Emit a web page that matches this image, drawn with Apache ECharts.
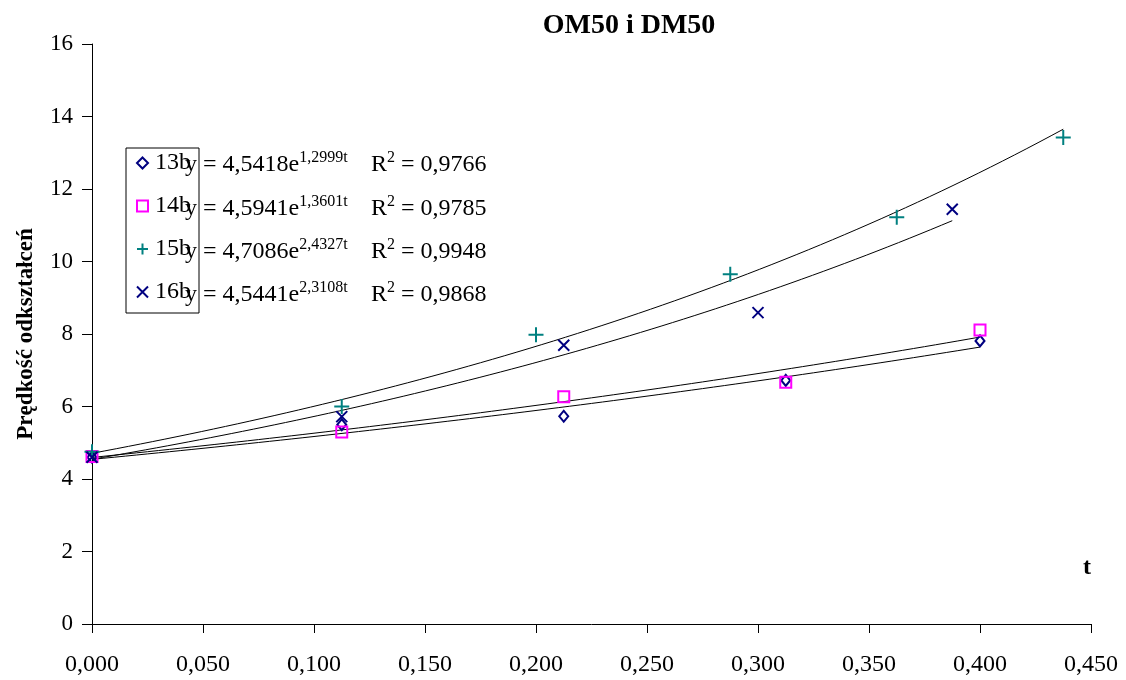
<!DOCTYPE html>
<html>
<head>
<meta charset="utf-8">
<script src="https://cdn.jsdelivr.net/npm/echarts@6/dist/echarts.min.js"></script>
<style>html,body{margin:0;padding:0;background:#fff}#c{width:1126px;height:680px}</style>
</head>
<body>
<div id="c"></div>
<script>
// ---- data ----
const seriesNames = ['13b', '14b', '15b', '16b'];
const t13 = [0, 0.1125, 0.2125, 0.3125, 0.4];
const v13 = [4.6, 5.5, 5.73, 6.72, 7.81];
const t14 = [0, 0.1125, 0.2125, 0.3125, 0.4];
const v14 = [4.62, 5.3, 6.27, 6.67, 8.11];
const t15 = [0, 0.1125, 0.2, 0.2875, 0.3625, 0.4375];
const v15 = [4.75, 6.0, 7.98, 9.65, 11.22, 13.42];
const t16 = [0, 0.1125, 0.2125, 0.3, 0.3875];
const v16 = [4.6, 5.72, 7.69, 8.59, 11.44];
// exponential trendlines y = a*e^(b t) as printed on the chart
const trendA = [4.5418, 4.5941, 4.7086, 4.5441];
const trendB = [1.2999, 1.3601, 2.4327, 2.3108];
const trendAText = ['4,5418', '4,5941', '4,7086', '4,5441'];
const trendBText = ['1,2999', '1,3601', '2,4327', '2,3108'];
const trendR2 = ['0,9766', '0,9785', '0,9948', '0,9868'];
const xTicks = { min: 0, max: 0.45, interval: 0.05 };
const yTicks = { min: 0, max: 16, interval: 2 };

const FONT = '"Liberation Serif", "Times New Roman", serif';
const colors = ['#000080', '#FF00FF', '#008080', '#000080'];
const symbols = [
  'diamond',
  'rect',
  'path://M5,0L5,10M0,5L10,5',
  'path://M0,0L10,10M10,0L0,10'
];
const symbolSizes = [[9, 11], 11, 15, 11];
const tList = [t13, t14, t15, t16];
const vList = [v13, v14, v15, v16];

const series = [];
// trendlines
for (let i = 0; i < 4; i++) {
  const ts = tList[i];
  const tEnd = ts[ts.length - 1];
  const pts = [];
  const n = 80;
  for (let k = 0; k <= n; k++) {
    const t = tEnd * k / n;
    pts.push([t, trendA[i] * Math.exp(trendB[i] * t)]);
  }
  series.push({
    name: 'trend' + i, type: 'line', data: pts, showSymbol: false, symbol: 'none',
    lineStyle: { color: '#000', width: 1 }, silent: true, z: 2, animation: false
  });
}
// scatter points
for (let i = 0; i < 4; i++) {
  series.push({
    name: seriesNames[i], type: 'scatter', z: 5, animation: false,
    symbol: symbols[i], symbolSize: symbolSizes[i],
    itemStyle: { color: 'rgba(0,0,0,0)', borderColor: colors[i], borderWidth: 2, opacity: 1 },
    data: tList[i].map((t, k) => [t, vList[i][k]])
  });
}

const rowY = [163, 207, 250, 293];
const richStyle = {
  n: { fontSize: 24, fontFamily: FONT, fill: '#000', lineHeight: 27, verticalAlign: 'bottom' },
  s: { fontSize: 16, fontFamily: FONT, fill: '#000', lineHeight: 15, verticalAlign: 'top' }
};
const graphics = [];
for (let i = 0; i < 4; i++) {
  graphics.push({
    type: 'text', x: 185, y: rowY[i], z: 10,
    style: {
      text: '{n|y = ' + trendAText[i] + 'e}{s|' + trendBText[i] + 't}',
      verticalAlign: 'middle', rich: richStyle
    }
  });
  graphics.push({
    type: 'text', x: 371, y: rowY[i], z: 10,
    style: {
      text: '{n|R}{s|2}{n| = ' + trendR2[i] + '}',
      verticalAlign: 'middle', rich: richStyle
    }
  });
}
graphics.push({
  type: 'text', x: 1087, y: 568, z: 10,
  style: { text: 't', fontSize: 24, fontWeight: 'bold', fontFamily: FONT, fill: '#000', align: 'center', verticalAlign: 'middle' }
});
graphics.push({
  type: 'text', x: 629, y: 26, z: 10,
  style: { text: 'OM50 i DM50', fontSize: 28, fontWeight: 'bold', fontFamily: FONT, fill: '#000', align: 'center', verticalAlign: 'middle' }
});

const chart = echarts.init(document.getElementById('c'), null, { renderer: 'canvas' });
chart.setOption({
  backgroundColor: '#fff',
  animation: false,
  legend: {
    data: seriesNames, orient: 'vertical', left: 126, top: 148,
    borderColor: '#000', borderWidth: 1, borderRadius: 0,
    padding: [3, 8, 9, 10], itemGap: 19, itemWidth: 11, itemHeight: 11,
    textStyle: { fontFamily: FONT, fontSize: 24, color: '#000', padding: [0, 0, 0, 2] },
    selectedMode: false
  },
  grid: { left: 92, right: 35, top: 44, bottom: 56 },
  xAxis: {
    type: 'value', min: xTicks.min, max: xTicks.max, interval: xTicks.interval,
    axisLine: { show: true, lineStyle: { color: '#000', width: 1 } },
    axisTick: { show: true, inside: false, length: 9, lineStyle: { color: '#000' } },
    splitLine: { show: false },
    axisLabel: {
      margin: 29, color: '#000', fontFamily: FONT, fontSize: 24,
      formatter: v => v.toFixed(3).replace('.', ',')
    }
  },
  yAxis: {
    type: 'value', min: yTicks.min, max: yTicks.max, interval: yTicks.interval,
    name: 'Prędkość odkształceń', nameLocation: 'middle', nameGap: 54, nameRotate: 90,
    nameTextStyle: { fontFamily: FONT, fontSize: 23, fontWeight: 'bold', color: '#000' },
    axisLine: { show: true, lineStyle: { color: '#000', width: 1 } },
    axisTick: { show: true, inside: false, length: 10, lineStyle: { color: '#000' } },
    splitLine: { show: false },
    axisLabel: { margin: 19, color: '#000', fontFamily: FONT, fontSize: 23 }
  },
  graphic: graphics,
  series: series
});
</script>
</body>
</html>
